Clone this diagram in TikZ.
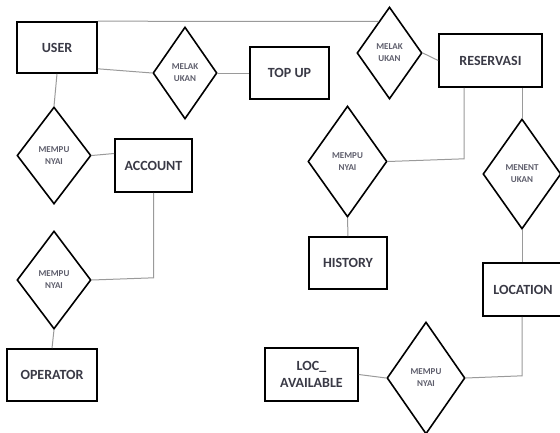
\documentclass[tikz,border=0pt]{standalone}
\usepackage{fontspec}
\setmainfont{Carlito}
\usetikzlibrary{shapes.geometric,calc}
\definecolor{txt}{HTML}{3A3A46}
\definecolor{smalltxt}{HTML}{5E5E6C}
\definecolor{conn}{HTML}{9A9A9A}
\tikzset{
  ent/.style={draw=black, line width=1.6pt, fill=white, inner sep=0pt, align=center,
    text=txt, font=\bfseries\fontsize{14}{17}\selectfont},
  rel/.style={draw=black, line width=1.6pt, fill=white, diamond, inner sep=0pt, align=center,
    text=smalltxt, font=\bfseries\fontsize{9}{12}\selectfont},
  link/.style={draw=conn, line width=1pt}
}
\begin{document}
\begin{tikzpicture}[x=1pt,y=-1pt]
\useasboundingbox (0,0) rectangle (560,432);
\node[ent, minimum width=80pt, minimum height=51pt] (user) at (57,47.5) {USER};
\node[ent, minimum width=79pt, minimum height=52pt] (topup) at (289.5,73) {TOP UP};
\node[ent, minimum width=103pt, minimum height=53pt] (reserv) at (490.5,60.5) {RESERVASI};
\node[ent, minimum width=77pt, minimum height=53pt] (account) at (153.5,165.5) {ACCOUNT};
\node[ent, minimum width=90pt, minimum height=52pt] (operator) at (52,375) {OPERATOR};
\node[ent, minimum width=78pt, minimum height=52pt] (history) at (348,263) {HISTORY};
\node[ent, minimum width=80pt, minimum height=53pt] (location) at (523,289.5) {LOCATION};
\node[ent, minimum width=93pt, minimum height=53pt] (locav) at (311.5,374.5) {LOC\_\\AVAILABLE};

\node[rel, minimum width=64pt, minimum height=92pt] (d1) at (185,73) {MELAK\\UKAN};
\node[rel, minimum width=65pt, minimum height=92pt] (d2) at (389.5,53) {MELAK\\UKAN};
\node[rel, minimum width=74pt, minimum height=97pt] (d3) at (54,155.5) {MEMPU\\NYAI};
\node[rel, minimum width=74pt, minimum height=98pt] (d4) at (54,280) {MEMPU\\NYAI};
\node[rel, minimum width=79pt, minimum height=111pt] (d5) at (347.5,161.5) {MEMPU\\NYAI};
\node[rel, minimum width=78pt, minimum height=110pt] (d6) at (522,174) {MENENT\\UKAN};
\node[rel, minimum width=78pt, minimum height=112pt] (d7) at (426,378) {MEMPU\\NYAI};

\coordinate (ut) at ($(d2.west)!0.674!(d2.north)$);
\coordinate (ue) at ($(user.south east)+(0,-5)$);
\coordinate (aw) at ($(account.west)+(0,-12)$);
\coordinate (ab) at ($(account.south)+(0,85)$);
\coordinate (rb) at ($(reserv.south west)+(26,0)$);
\coordinate (rk) at ($(rb)+(0,71)$);
\coordinate (lb) at (location.south -| d6.south);
\coordinate (lk) at ($(lb)+(0,59)$);

\draw[link] (user.north east) -- (ut);
\draw[link] (ue) -- (d1.west);
\draw[link] (d1.east) -- (topup.west);
\draw[link] (d2.east) -- (reserv.west);
\draw[link] (rb) -- (rk) -- (d5.east);
\draw[link] (reserv.south -| d6.north) -- (d6.north);
\draw[link] (d6.south) -- (d6.south |- location.north);
\draw[link] (lb) -- (lk) -- (d7.east);
\draw[link] (d7.west) -- (locav.east);
\draw[link] (d5.south) -- (history.north);
\draw[link] (user.south) -- (d3.north);
\draw[link] (d3.east) -- (aw);
\draw[link] (account.south) -- (ab) -- (d4.east);
\draw[link] (d4.south) -- (operator.north);
\end{tikzpicture}
\end{document}
